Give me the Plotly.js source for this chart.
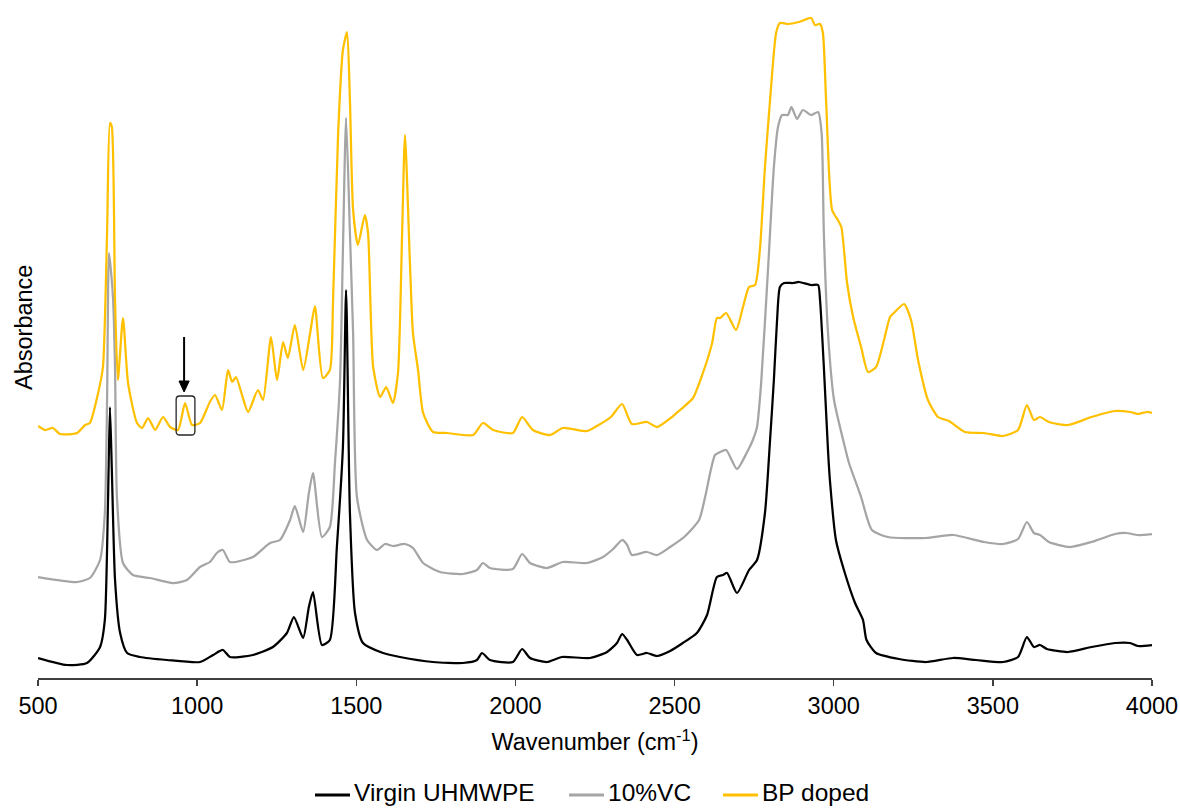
<!DOCTYPE html>
<html>
<head>
<meta charset="utf-8">
<script src="https://cdn.plot.ly/plotly-3.0.1.min.js"></script>
<style>html,body{margin:0;padding:0;background:#fff;}#chart{width:1180px;height:808px;}</style>
</head>
<body>
<div id="chart"></div>
<script>
// Wavenumbers (cm-1) and absorbance (arbitrary, offset-stacked)
const virginX = [500,591,654,695,710,720,726,732,742,758,780,820,905,1009,1050,1081,1103,1175,1238,1282,1304,1333,1351,1364,1392,1417,1439,1458,1468,1480,1496,1521,1584,1637,1741,1835,1879,1895,1920,1992,2021,2046,2099,2146,2234,2288,2319,2335,2351,2382,2413,2445,2486,2526,2570,2602,2633,2652,2665,2696,2734,2759,2784,2800,2812,2822,2831,2844,2872,2891,2929,2951,2957,2969,2982,2988,3007,3035,3067,3092,3103,3133,3205,3290,3375,3447,3532,3579,3607,3629,3648,3670,3736,3810,3884,3931,3956,4000];
const virginY = [0.20,0.13,0.15,0.31,0.58,1.78,2.71,2.08,0.98,0.45,0.25,0.21,0.18,0.16,0.23,0.28,0.21,0.23,0.31,0.45,0.61,0.40,0.71,0.86,0.33,0.38,1.31,2.31,3.88,1.65,0.65,0.35,0.25,0.21,0.16,0.15,0.18,0.25,0.18,0.16,0.29,0.20,0.16,0.21,0.20,0.26,0.35,0.44,0.38,0.23,0.25,0.22,0.27,0.35,0.45,0.63,1.01,1.03,1.05,0.85,1.08,1.18,1.65,2.38,2.98,3.58,3.91,3.95,3.95,3.96,3.93,3.93,3.78,3.11,2.28,1.98,1.38,1.05,0.75,0.58,0.38,0.25,0.19,0.16,0.20,0.18,0.16,0.21,0.41,0.31,0.33,0.29,0.26,0.31,0.35,0.35,0.32,0.33];

const vcX = [500,623,663,695,710,717,723,729,736,742,748,767,798,852,924,968,1009,1040,1062,1081,1103,1175,1229,1260,1292,1307,1333,1351,1364,1392,1417,1433,1449,1458,1468,1480,1490,1502,1534,1565,1590,1615,1653,1678,1710,1763,1835,1879,1898,1920,1992,2021,2046,2099,2149,2225,2275,2307,2335,2351,2366,2413,2445,2486,2530,2577,2596,2627,2643,2662,2696,2728,2746,2759,2772,2794,2812,2825,2838,2856,2867,2885,2903,2929,2951,2962,2969,2982,3001,3035,3048,3086,3120,3170,3290,3375,3472,3532,3579,3607,3629,3648,3676,3742,3810,3884,3918,3956,4000];
const vcY = [1.01,0.96,1.00,1.18,1.65,2.78,4.25,4.08,3.78,3.11,1.81,1.15,1.03,1.00,0.95,0.98,1.11,1.16,1.25,1.28,1.16,1.21,1.35,1.38,1.58,1.72,1.46,1.85,2.05,1.41,1.51,2.15,2.98,4.28,5.60,4.45,3.45,1.81,1.38,1.28,1.34,1.32,1.34,1.30,1.15,1.06,1.04,1.08,1.15,1.10,1.09,1.24,1.15,1.10,1.16,1.15,1.21,1.29,1.38,1.33,1.23,1.26,1.23,1.31,1.41,1.58,1.81,2.23,2.26,2.28,2.09,2.26,2.38,2.51,2.95,4.11,5.11,5.51,5.63,5.63,5.71,5.59,5.68,5.63,5.66,5.45,4.45,3.45,2.78,2.31,2.15,1.81,1.48,1.41,1.40,1.43,1.36,1.34,1.39,1.56,1.45,1.43,1.36,1.31,1.36,1.44,1.45,1.43,1.44];

const bpX = [500,522,547,569,623,648,663,689,704,717,726,732,742,751,767,783,811,827,846,868,893,915,940,962,984,1009,1040,1056,1078,1097,1110,1122,1141,1160,1191,1207,1232,1251,1270,1285,1307,1333,1355,1370,1395,1417,1427,1443,1458,1471,1480,1490,1505,1527,1537,1553,1575,1594,1615,1631,1644,1653,1669,1678,1694,1710,1741,1785,1867,1898,1930,1992,2021,2055,2109,2149,2225,2256,2300,2335,2366,2413,2445,2492,2517,2558,2589,2618,2633,2643,2662,2693,2715,2734,2753,2768,2784,2800,2819,2831,2856,2891,2929,2941,2957,2966,2976,2995,3013,3024,3042,3061,3086,3108,3133,3158,3177,3192,3221,3243,3265,3296,3328,3362,3412,3472,3532,3579,3607,3629,3648,3676,3736,3810,3884,3931,3956,3984,4000];
const bpY = [2.52,2.48,2.50,2.44,2.45,2.53,2.55,2.85,3.11,4.45,5.55,5.51,3.78,2.98,3.60,2.95,2.55,2.50,2.60,2.48,2.61,2.51,2.48,2.75,2.53,2.55,2.76,2.83,2.68,3.08,2.96,3.01,2.83,2.66,2.88,2.78,3.41,2.98,3.36,3.20,3.53,3.08,3.45,3.72,3.00,3.08,3.78,5.45,6.28,6.46,5.78,4.68,4.33,4.63,4.45,3.11,2.81,2.91,2.75,3.05,4.45,5.43,4.11,3.45,3.08,2.65,2.46,2.45,2.43,2.55,2.48,2.45,2.61,2.48,2.43,2.50,2.47,2.52,2.61,2.74,2.54,2.56,2.51,2.61,2.68,2.80,3.05,3.35,3.60,3.60,3.65,3.48,3.71,3.91,3.93,4.28,5.11,5.78,6.45,6.55,6.54,6.56,6.60,6.53,6.54,6.45,5.78,4.68,4.58,4.51,3.95,3.61,3.31,3.06,3.11,3.38,3.61,3.66,3.74,3.58,3.18,2.78,2.61,2.57,2.46,2.45,2.42,2.48,2.73,2.58,2.61,2.56,2.53,2.61,2.67,2.66,2.64,2.66,2.65];

const seriesNames = ['Virgin UHMWPE', '10%VC', 'BP doped'];
const seriesColors = ['#000000', '#A5A5A5', '#FFC000'];
const seriesX = [virginX, vcX, bpX];
const seriesY = [virginY, vcY, bpY];
const tickVals = [500, 1000, 1500, 2000, 2500, 3000, 3500, 4000];

const FONT = 'Arial, "Liberation Sans", sans-serif';
const W = 1180, H = 808, ML = 38, MR = 28, MT = 10, MB = 130;
const PW = W - ML - MR, PH = H - MT - MB;
const px2paperX = px => (px - ML) / PW;
const py2paperY = py => (H - MB - py) / PH;

const traces = seriesNames.map((n, i) => ({
  type: 'scatter', mode: 'lines', name: n, showlegend: false,
  x: seriesX[i], y: seriesY[i],
  line: {color: seriesColors[i], width: 2.25, shape: 'spline', smoothing: 0.6}
}));

// rounded box around the ~960 cm-1 band
const bx0 = 934, bx1 = 993, by0 = 2.43, by1 = 2.82, rx = 11, ry = 0.035;
const boxPath = `M ${bx0+rx},${by0} L ${bx1-rx},${by0} Q ${bx1},${by0} ${bx1},${by0+ry} L ${bx1},${by1-ry} Q ${bx1},${by1} ${bx1-rx},${by1} L ${bx0+rx},${by1} Q ${bx0},${by1} ${bx0},${by1-ry} L ${bx0},${by0+ry} Q ${bx0},${by0} ${bx0+rx},${by0} Z`;
// arrow pointing to the box
const ax = 959, ayTop = 3.41, ayHead = 2.97, ayTip = 2.86, ahw = 16;
const headPath = `M ${ax-ahw},${ayHead} L ${ax+ahw},${ayHead} L ${ax},${ayTip} Z`;

// manual legend (line sample + label)
const legendY = py2paperY(792);
const legendItems = [
  {x0: 315, x1: 350, tx: 353},
  {x0: 569, x1: 604, tx: 607},
  {x0: 723, x1: 758, tx: 761}
];
const shapes = [
  {type: 'path', xref: 'x', yref: 'y', path: boxPath, line: {color: '#262626', width: 1.3}},
  {type: 'line', xref: 'x', yref: 'y', x0: ax, x1: ax, y0: ayTop, y1: ayHead, line: {color: '#000', width: 2}},
  {type: 'path', xref: 'x', yref: 'y', path: headPath, fillcolor: '#000', line: {color: '#000', width: 1}}
];
const annotations = [
  {text: 'Absorbance', xref: 'paper', yref: 'paper', x: px2paperX(24), y: py2paperY(328),
   xanchor: 'center', yanchor: 'middle', textangle: -90, showarrow: false,
   font: {family: FONT, size: 23.5, color: '#000'}}
];
legendItems.forEach((it, i) => {
  shapes.push({type: 'line', xref: 'paper', yref: 'paper', x0: px2paperX(it.x0), x1: px2paperX(it.x1),
    y0: py2paperY(795), y1: py2paperY(795), line: {color: seriesColors[i], width: 3}});
  annotations.push({text: seriesNames[i], xref: 'paper', yref: 'paper', x: px2paperX(it.tx), y: legendY,
    xanchor: 'left', yanchor: 'middle', showarrow: false, borderpad: 0,
    font: {family: FONT, size: 24.5, color: '#000'}});
});

const layout = {
  width: W, height: H,
  margin: {l: ML, r: MR, t: MT, b: MB},
  paper_bgcolor: '#fff', plot_bgcolor: '#fff',
  font: {family: FONT, size: 23.5, color: '#000'},
  showlegend: false,
  xaxis: {
    range: [500, 4000], tickvals: tickVals, ticktext: tickVals.map(String),
    showline: true, linecolor: '#404040', linewidth: 1.5,
    ticks: 'outside', ticklen: 6, tickwidth: 1.5, tickcolor: '#404040',
    showgrid: false, zeroline: false, automargin: false,
    tickfont: {family: FONT, size: 23.5, color: '#000'},
    title: {text: 'Wavenumber (cm<sup>-1</sup>)', font: {family: FONT, size: 23.5, color: '#000'}, standoff: 16}
  },
  yaxis: {
    range: [0, 6.68], showline: false, showticklabels: false, ticks: '',
    showgrid: false, zeroline: false, automargin: false
  },
  shapes: shapes,
  annotations: annotations
};

Plotly.newPlot('chart', traces, layout, {displayModeBar: false, staticPlot: true});
</script>
</body>
</html>
